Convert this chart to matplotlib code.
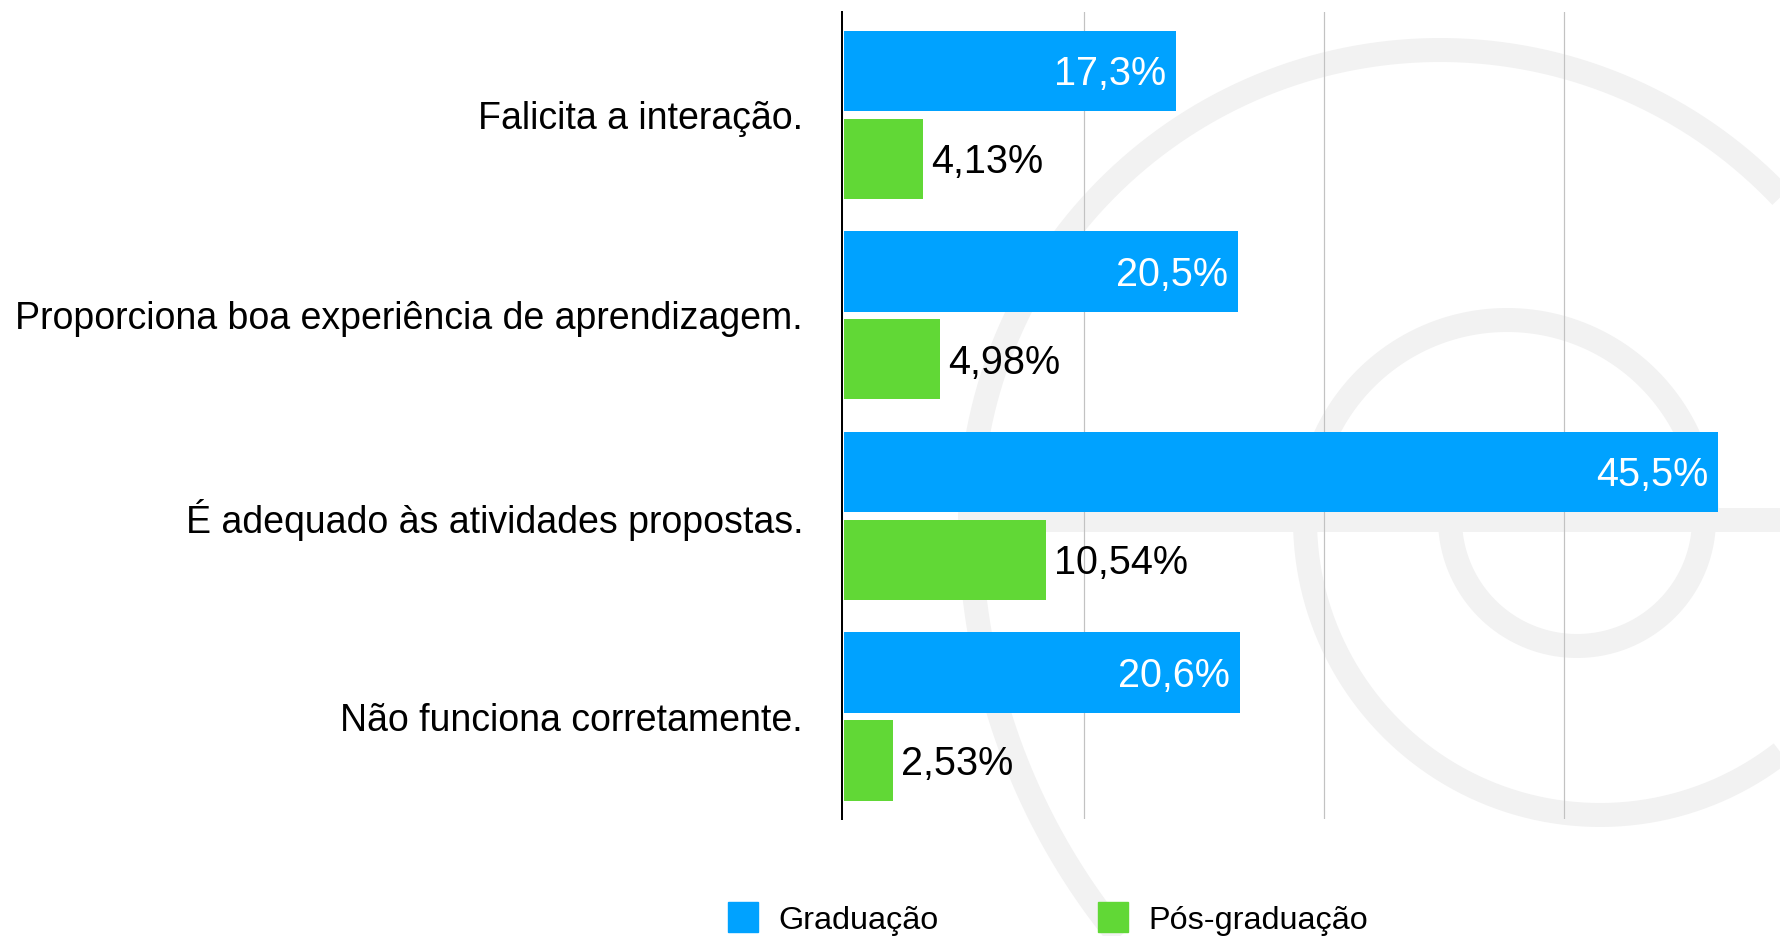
import numpy as np
import matplotlib
matplotlib.use("Agg")
import matplotlib.pyplot as plt
from matplotlib.patches import Rectangle

# ---------------- data ----------------
categories = [
    "Falicita a interação.",
    "Proporciona boa experiência de aprendizagem.",
    "É adequado às atividades propostas.",
    "Não funciona corretamente.",
]
series_names = ["Graduação", "Pós-graduação"]
graduacao = [17.3, 20.5, 45.5, 20.6]
pos_graduacao = [4.13, 4.98, 10.54, 2.53]
grid_ticks = [12.5, 25, 37.5]

# ---------------- style ----------------
BLUE = "#00A2FF"
GREEN = "#61D836"
WM = "#f2f2f2"
plt.rcParams["font.family"] = ["Liberation Sans", "DejaVu Sans"]

W, H = 1781, 936
DPI = 100
fig = plt.figure(figsize=(W / DPI, H / DPI), dpi=DPI)
fig.patch.set_facecolor("white")

# background layer in pixel coordinates (watermark + legend)
bg = fig.add_axes([0, 0, 1, 1], zorder=0)
bg.set_xlim(0, W)
bg.set_ylim(H, 0)
bg.axis("off")

px2pt = 72.0 / DPI
wm_lw = 24 * px2pt


def half_circle(cx, cy, r, lower=True):
    t = np.linspace(0, np.pi, 400)
    x = cx + r * np.cos(t)
    y = cy + r * np.sin(t) if lower else cy - r * np.sin(t)
    bg.plot(x, y, color=WM, lw=wm_lw, solid_capstyle="butt", zorder=0)


# faint spiral watermark
half_circle(1577, 519, 127, lower=True)
half_circle(1507, 520, 200, lower=False)
half_circle(1600, 520, 295, lower=True)
half_circle(1440, 520, 470, lower=False)
half_circle(1628, 520, 658, lower=True)
bg.plot([973, W], [520, 520], color=WM, lw=wm_lw, solid_capstyle="butt", zorder=0)

# ---------------- main axes ----------------
left_px, right_px, top_px, bottom_px = 842, W, 12, 819
ax = fig.add_axes([left_px / W, 1 - bottom_px / H,
                   (right_px - left_px) / W, (bottom_px - top_px) / H], zorder=1)
ax.patch.set_alpha(0)

y = np.arange(len(categories))
off = 0.219
h = 0.4
ax.barh(y - off, graduacao, height=h, color=BLUE, zorder=2, label=series_names[0])
ax.barh(y + off, pos_graduacao, height=h, color=GREEN, zorder=2, label=series_names[1])

ax.set_xlim(-0.104, 48.8)
ax.set_ylim(3.511, -0.513)

ax.set_xticks(grid_ticks)
ax.set_xticklabels([])
ax.tick_params(axis="x", length=0)
ax.xaxis.grid(True, color="#c2c2c2", lw=1.2 * px2pt, zorder=1)
ax.set_axisbelow(True)

ax.set_yticks(y)
ax.set_yticklabels(categories, fontsize=27)
ax.tick_params(axis="y", length=0, pad=28)

for s in ["top", "right", "bottom"]:
    ax.spines[s].set_visible(False)
ax.spines["left"].set_color("black")
ax.spines["left"].set_linewidth(2 * px2pt)
ax.spines["left"].set_zorder(3)

val_fs = 28.5
cap = 0.716 * val_fs
for yi, v in zip(y, graduacao):
    ax.annotate(f"{v:.1f}".replace(".", ",") + "%", xy=(v, yi - off),
                xytext=(-7, -cap / 2), textcoords="offset points",
                ha="right", va="baseline", color="white", fontsize=val_fs, zorder=4)
for yi, v in zip(y, pos_graduacao):
    ax.annotate(f"{v:.2f}".replace(".", ",") + "%", xy=(v, yi + off),
                xytext=(5.8, -cap / 2), textcoords="offset points",
                ha="left", va="baseline", color="black", fontsize=val_fs, zorder=4)

# ---------------- legend ----------------
leg_fs = 23.3
leg_cap_px = 0.716 * leg_fs / px2pt
for (sx, tx), col, name in zip([(728, 778), (1098, 1148)], [BLUE, GREEN], series_names):
    bg.add_patch(Rectangle((sx, 902), 30, 30, color=col, zorder=2))
    bg.text(tx, 917 + leg_cap_px / 2, name, fontsize=leg_fs, ha="left",
            va="baseline", color="black", zorder=2)

fig.savefig("out.png", dpi=DPI)
